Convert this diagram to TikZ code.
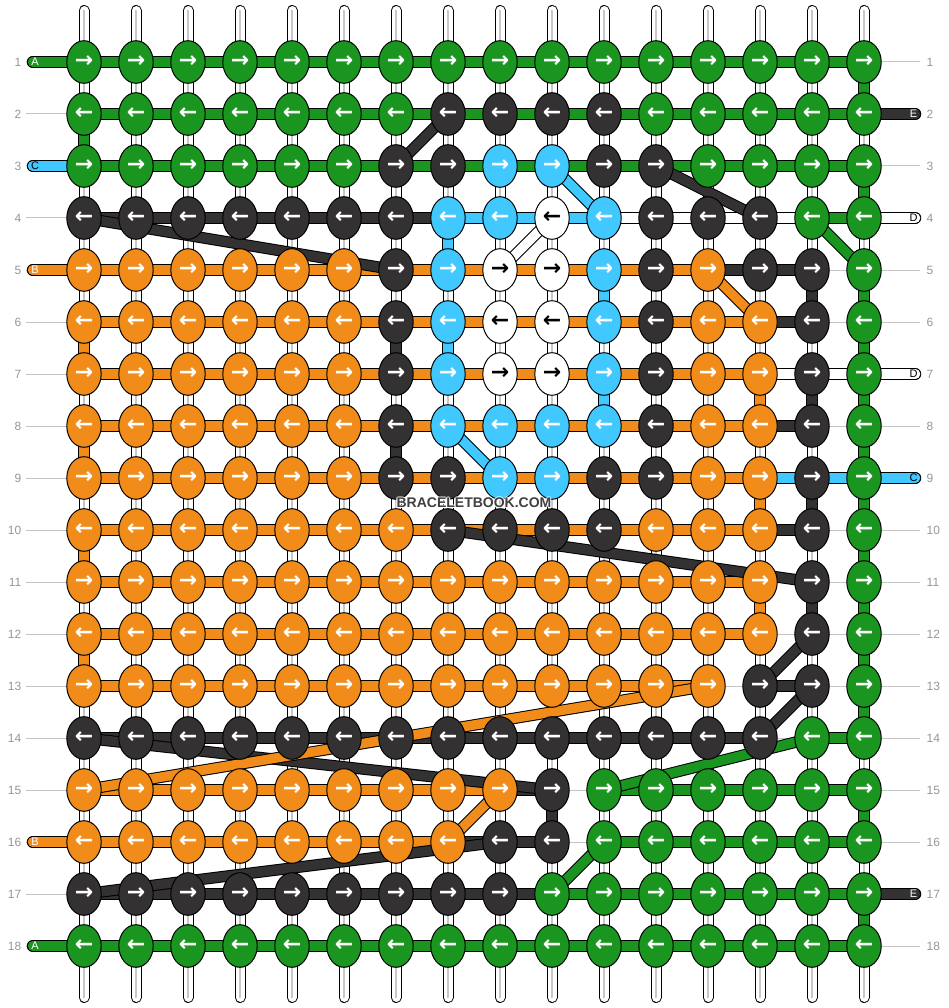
\documentclass[tikz,border=0pt]{standalone}
\usepackage{fontspec}
\setmainfont{Liberation Sans}
\newfontfamily\arrowfont{DejaVu Sans}
\usetikzlibrary{shapes.geometric}
\definecolor{cG}{RGB}{26,150,32}
\definecolor{cO}{RGB}{241,140,26}
\definecolor{cB}{RGB}{64,200,255}
\definecolor{cK}{RGB}{51,49,50}
\definecolor{cW}{RGB}{255,255,255}
\colorlet{aG}{white}
\colorlet{aO}{white}
\colorlet{aB}{white}
\colorlet{aK}{white}
\colorlet{aW}{black}
\definecolor{linegray}{RGB}{195,195,195}
\definecolor{numgray}{RGB}{150,150,150}
\definecolor{strandgray}{RGB}{200,200,200}
\definecolor{wmgray}{RGB}{64,64,64}
\pgfdeclarelayer{strands}
\pgfdeclarelayer{threads}
\pgfdeclarelayer{diags}
\pgfsetlayers{strands,threads,diags,main}
\newcommand\bbband[3]{%
  \draw[line width=11.5pt,black] #2 -- #3;
  \draw[line width=9.5pt,color=c#1] #2 -- #3;}
\newcommand\bbend[3]{%
  \draw[line width=11.5pt,black,line cap=round] #2 -- #3;
  \draw[line width=9.5pt,color=c#1,line cap=round] #2 -- #3;}
\begin{document}
\begin{tikzpicture}[x=1pt,y=-1pt,
  knot/.style={ellipse,draw=black,line width=1pt,minimum width=34.4pt,minimum height=42.6pt,inner sep=0pt,font=\arrowfont\bfseries\fontsize{22}{22}\selectfont},
  rownum/.style={text=numgray,font=\fontsize{12}{12}\selectfont,inner sep=0pt},
  endlbl/.style={font=\fontsize{11}{11}\selectfont,inner sep=0pt},
  wmstyle/.style={font=\bfseries\fontsize{14}{14}\selectfont,inner sep=0pt}]
\useasboundingbox (0,0) rectangle (948,1008);
% knots
\foreach \rr/\kl in {
 1/{G,G,G,G,G,G,G,G,G,G,G,G,G,G,G,G},
 2/{G,G,G,G,G,G,G,K,K,K,K,G,G,G,G,G},
 3/{G,G,G,G,G,G,K,K,B,B,K,K,G,G,G,G},
 4/{K,K,K,K,K,K,K,B,B,W,B,K,K,K,G,G},
 5/{O,O,O,O,O,O,K,B,W,W,B,K,O,K,K,G},
 6/{O,O,O,O,O,O,K,B,W,W,B,K,O,O,K,G},
 7/{O,O,O,O,O,O,K,B,W,W,B,K,O,O,K,G},
 8/{O,O,O,O,O,O,K,B,B,B,B,K,O,O,K,G},
 9/{O,O,O,O,O,O,K,K,B,B,K,K,O,O,K,G},
 10/{O,O,O,O,O,O,O,K,K,K,K,O,O,O,K,G},
 11/{O,O,O,O,O,O,O,O,O,O,O,O,O,O,K,G},
 12/{O,O,O,O,O,O,O,O,O,O,O,O,O,O,K,G},
 13/{O,O,O,O,O,O,O,O,O,O,O,O,O,K,K,G},
 14/{K,K,K,K,K,K,K,K,K,K,K,K,K,K,G,G},
 15/{O,O,O,O,O,O,O,O,O,K,G,G,G,G,G,G},
 16/{O,O,O,O,O,O,O,O,K,K,G,G,G,G,G,G},
 17/{K,K,K,K,K,K,K,K,K,G,G,G,G,G,G,G},
 18/{G,G,G,G,G,G,G,G,G,G,G,G,G,G,G,G}}{
  \ifodd\rr \gdef\arr{→}\else \gdef\arr{←}\fi
  \foreach \k [count=\c] in \kl {
    \node[knot,fill=c\k,text=a\k] (k-\rr-\c) at ({32+52*\c},{10+52*\rr}) {\arr};
  }
}
% watermark
\foreach \dx/\dy [count=\i] in {-1/0,1/0,0/-1,0/1,-0.7/-0.7,0.7/0.7,-0.7/0.7,0.7/-0.7}{
  \node[wmstyle,text=white,opacity=0.75] (wmh-\i) at ({474+\dx},{503+\dy}) {BRACELETBOOK.COM};
}
\node[wmstyle,text=wmgray] (wm) at (474,503) {BRACELETBOOK.COM};
% strands and row lines
\begin{pgfonlayer}{strands}
\foreach \rr in {1,...,18}{
  \coordinate (gl-\rr) at (26,{10+52*\rr});
  \coordinate (gr-\rr) at (920,{10+52*\rr});
  \draw[linegray,line width=1pt] (gl-\rr) -- (gr-\rr);
  \node[rownum,anchor=east] (ln-\rr) at (21.5,{10+52*\rr}) {\rr};
  \node[rownum,anchor=west] (rn-\rr) at (926.5,{10+52*\rr}) {\rr};
}
\foreach \c in {1,...,16}{
  \coordinate (st-\c) at ({32+52*\c},10.5);
  \coordinate (sb-\c) at ({32+52*\c},997.5);
  \draw[line width=11pt,black,line cap=round] (st-\c) -- (sb-\c);
  \draw[line width=9pt,white,line cap=round] (st-\c) -- (sb-\c);
  \draw[line width=1.4pt,strandgray] (st-\c) -- (sb-\c);
}
\end{pgfonlayer}
% horizontal and vertical thread pieces
\begin{pgfonlayer}{threads}
\foreach \rr/\ca/\cb/\cc in {
 1/1/16/G, 2/1/16/G, 3/1/16/G,
 4/1/8/K, 4/8/11/B, 4/11/15/W, 4/15/16/G,
 5/1/13/O, 5/13/15/K,
 6/1/14/O, 6/14/15/K,
 7/1/14/O, 7/14/16/W,
 8/1/14/O, 8/14/15/K,
 9/1/14/O, 9/14/16/B,
 10/1/14/O, 10/14/15/K,
 11/1/14/O, 12/1/14/O,
 13/1/13/O, 13/14/15/K,
 14/1/14/K, 14/15/16/G,
 15/1/9/O, 15/9/10/K, 15/11/16/G,
 16/1/8/O, 16/8/10/K, 16/11/16/G,
 17/1/10/K, 17/10/16/G,
 18/1/16/G}{
  \bbband{\cc}{(k-\rr-\ca.center)}{(k-\rr-\cb.center)}
}
\foreach \rr/\c/\cc in {
 1/16/G, 2/1/G, 3/16/G, 5/16/G, 6/16/G, 7/16/G, 8/16/G, 9/16/G, 10/16/G,
 11/16/G, 12/16/G, 13/16/G, 15/16/G, 17/16/G,
 6/1/O, 8/1/O, 10/1/O, 12/1/O, 7/14/O, 9/14/O, 11/14/O,
 5/15/K, 7/15/K, 9/15/K, 11/15/K, 6/7/K, 8/7/K, 15/10/K,
 4/8/B, 6/8/B, 5/11/B, 7/11/B}{
  \pgfmathtruncatemacro\rn{\rr+1}
  \bbband{\cc}{(k-\rr-\c.center)}{(k-\rn-\c.center)}
}
\foreach \rr/\cc/\ltx/\tc in {1/G/A/white, 3/B/C/black, 5/O/B/white, 16/O/B/white, 18/G/A/white}{
  \coordinate (le-\rr) at (32.5,{10+52*\rr});
  \bbend{\cc}{(le-\rr)}{(k-\rr-1.center)}
  \node[endlbl,text=\tc] (lt-\rr) at (35,{10+52*\rr}) {\ltx};
}
\foreach \rr/\cc/\ltx/\tc in {2/K/E/white, 4/W/D/black, 7/W/D/black, 9/B/C/black, 17/K/E/white}{
  \coordinate (re-\rr) at (915.5,{10+52*\rr});
  \bbend{\cc}{(k-\rr-16.center)}{(re-\rr)}
  \node[endlbl,text=\tc] (rt-\rr) at (913.5,{10+52*\rr}) {\ltx};
}
\end{pgfonlayer}
% diagonal thread pieces
\begin{pgfonlayer}{diags}
\foreach \ra/\ca/\rb/\cb/\cc in {
 2/8/3/7/K, 3/12/4/14/K, 4/1/5/7/K, 10/8/11/15/K, 12/15/13/14/K, 13/15/14/14/K,
 14/1/15/10/K, 16/9/17/1/K,
 3/10/4/11/B, 8/8/9/9/B, 4/15/5/16/G, 4/10/5/9/W, 5/13/6/14/O,
 13/13/15/1/O, 15/9/16/8/O, 17/10/16/11/G, 15/11/14/15/G}{
  \bbband{\cc}{(k-\ra-\ca.center)}{(k-\rb-\cb.center)}
}
\end{pgfonlayer}
\end{tikzpicture}
\end{document}
